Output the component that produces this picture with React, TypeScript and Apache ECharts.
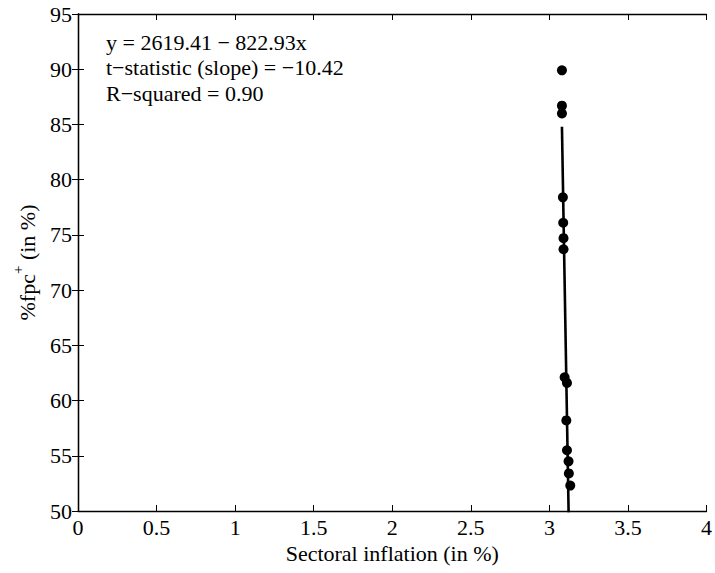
import React, { useEffect, useRef } from "react";
import * as echarts from "echarts";

const inflation = [3.080, 3.080, 3.080, 3.086, 3.088, 3.090, 3.090, 3.097, 3.112, 3.108, 3.112, 3.122, 3.124, 3.133];
const fpcShare = [89.9, 86.7, 86.0, 78.4, 76.1, 74.7, 73.7, 62.1, 61.6, 58.2, 55.5, 54.5, 53.4, 52.3];
const intercept = 2619.41;
const slope = -822.93;
const annotations = [
  "y = 2619.41 \u2212 822.93x",
  "t\u2212statistic (slope) = \u221210.42",
  "R\u2212squared = 0.90",
];
const xRange = [0, 4, 0.5];
const yRange = [50, 95, 5];

const FONT = "'Liberation Serif', 'Times New Roman', serif";
const FS = 22;

export default function App() {
  const ref = useRef<HTMLDivElement>(null);
  useEffect(() => {
    if (!ref.current) return;
    const chart = echarts.init(ref.current, undefined, { renderer: "svg" });
    const points = inflation.map((x, i) => [x, fpcShare[i]]);
    const xMin = Math.min(...inflation);
    const xMax = Math.max(...inflation);
    const fitLine = [
      [xMin, intercept + slope * xMin],
      [xMax, intercept + slope * xMax],
    ];
    const axisLine = { lineStyle: { color: "#000", width: 1.3 } };
    const axisTick = { inside: true, length: 6, lineStyle: { color: "#000", width: 1 } };
    const labelStyle = { color: "#000", fontSize: FS, fontFamily: FONT };
    chart.setOption({
      animation: false,
      backgroundColor: "#fff",
      grid: { left: 78, right: 8, top: 14, bottom: 62, containLabel: false },
      xAxis: [
        {
          type: "value",
          min: xRange[0],
          max: xRange[1],
          interval: xRange[2],
          position: "bottom",
          axisLine,
          axisTick,
          splitLine: { show: false },
          axisLabel: { ...labelStyle, margin: 5 },
          name: "Sectoral inflation (in %)",
          nameLocation: "middle",
          nameGap: 29,
          nameTextStyle: { color: "#000", fontSize: FS, fontFamily: FONT },
        },
        {
          type: "value",
          min: xRange[0],
          max: xRange[1],
          interval: xRange[2],
          position: "top",
          axisLine,
          axisTick,
          splitLine: { show: false },
          axisLabel: { show: false },
        },
      ],
      yAxis: [
        {
          type: "value",
          min: yRange[0],
          max: yRange[1],
          interval: yRange[2],
          position: "left",
          axisLine,
          axisTick,
          splitLine: { show: false },
          axisLabel: { ...labelStyle, margin: 6 },
          name: "{b|%fpc}{s|+}{b| (in %)}",
          nameLocation: "middle",
          nameGap: 40,
          nameTextStyle: {
            color: "#000",
            fontFamily: FONT,
            fontSize: FS,
            rich: {
              b: { fontSize: FS, fontFamily: FONT, color: "#000", lineHeight: 28, verticalAlign: "bottom" },
              s: { fontSize: 15, fontFamily: FONT, color: "#000", lineHeight: 28, verticalAlign: "top" },
            },
          },
        },
        {
          type: "value",
          min: yRange[0],
          max: yRange[1],
          interval: yRange[2],
          position: "right",
          axisLine,
          axisTick,
          splitLine: { show: false },
          axisLabel: { show: false },
        },
      ],
      series: [
        {
          type: "line",
          data: fitLine,
          xAxisIndex: 0,
          yAxisIndex: 0,
          showSymbol: false,
          symbol: "none",
          clip: true,
          lineStyle: { color: "#000", width: 2.6 },
          z: 2,
        },
        {
          type: "scatter",
          data: points,
          xAxisIndex: 0,
          yAxisIndex: 0,
          symbol: "circle",
          symbolSize: 10,
          itemStyle: { color: "#000", opacity: 1 },
          z: 3,
        },
      ],
      graphic: annotations.map((t, i) => ({
        type: "text",
        left: 106,
        top: 31 + i * 25.5,
        style: { text: t, fill: "#000", fontSize: FS, fontFamily: FONT },
      })),
    });
    return () => chart.dispose();
  }, []);
  return <div ref={ref} style={{ width: 715, height: 573, position: "absolute", left: 0, top: 0 }} />;
}
